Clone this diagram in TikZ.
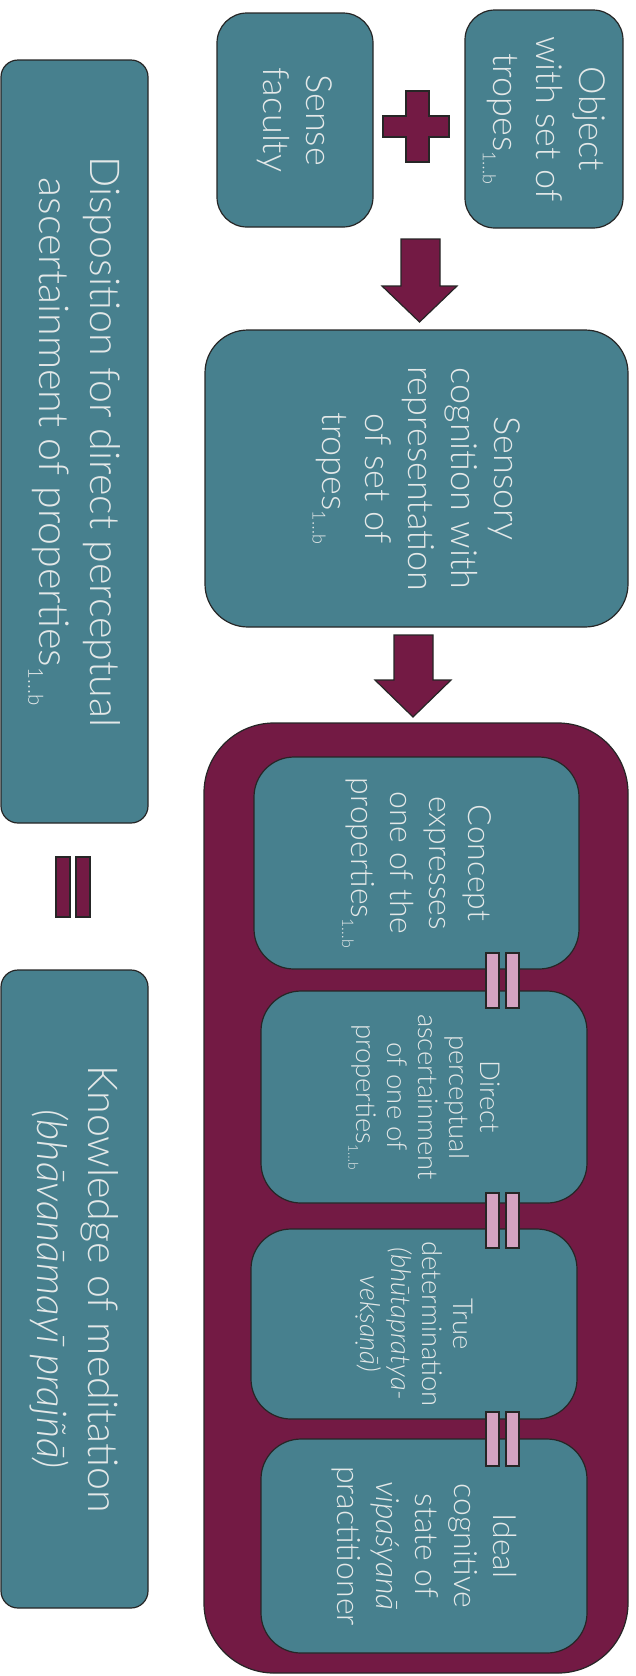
\documentclass[tikz,border=0pt]{standalone}
\usepackage{fontspec}
\usepackage{graphicx}
\setmainfont{Lato}[UprightFont={* Light},ItalicFont={* Light Italic}]
\usetikzlibrary{positioning}

\definecolor{boxteal}{HTML}{47808E}
\definecolor{plum}{HTML}{731A44}
\definecolor{linkpink}{HTML}{D4A3C2}
\definecolor{boxtext}{HTML}{E3E8E8}

% index range of the tropes / properties
\newcommand{\rng}{\raisebox{-0.28em}{\scalebox{0.5}{1…b}}}

\begin{document}
\begin{tikzpicture}[
    x=0.5pt, y=-0.5pt,
    box/.style={rectangle,draw=black!85,line width=0.6pt,fill=boxteal,text=boxtext,
      align=center,inner sep=0pt,rotate=-90,rounded corners=20pt},
    smallbox/.style={box,rounded corners=15pt,font=\fontsize{18}{21.5}\selectfont},
    midbox/.style={box,font=\fontsize{16}{19.5}\selectfont},
    tinybox/.style={box,font=\fontsize{13.7}{15.5}\selectfont},
    sidebox/.style={box,rounded corners=8.5pt,font=\fontsize{20.6}{25.5}\selectfont},
    stage/.style={rectangle,draw=black!85,line width=0.6pt,fill=plum,rounded corners=35pt},
    blockarrow/.style={draw=black!85,line width=0.6pt,fill=plum},
    link/.style={draw=black!85,line width=0.6pt,fill=linkpink}
  ]
    \useasboundingbox (0,0) rectangle (636,1676);

    % Inputs
    \node[smallbox, minimum width=107pt, minimum height=78pt] (sense) at (295,120)
      {Sense\\faculty};
    \node[smallbox, minimum width=109pt, minimum height=79pt] (object) at (544,119)
      {Object\\with set of\\tropes\rng};

    % Plus sign
    \draw[blockarrow] (406,91) -- (429,91) -- (429,116) -- (449,116) -- (449,137)
      -- (429,137) -- (429,162) -- (406,162) -- (406,137) -- (383,137)
      -- (383,116) -- (406,116) -- cycle;

    % Arrow down to sensory cognition
    \draw[blockarrow] (401,239) -- (440,239) -- (440,286) -- (457,286) -- (419.5,322)
      -- (382,286) -- (401,286) -- cycle;

    \node[smallbox, rounded corners=21.5pt, minimum width=148.5pt, minimum height=211.5pt]
      (sensory) at (416.5,478.5)
      {Sensory\\cognition with\\representation\\of set of\\tropes\rng};

    % Arrow down to the stages
    \draw[blockarrow] (394,635) -- (433,635) -- (433,680) -- (451,680) -- (413,717)
      -- (375,680) -- (394,680) -- cycle;

    % Stages
    \node[stage, minimum width=212pt, minimum height=475pt] (stage) at (416,1198) {};

    \node[midbox, minimum width=106pt, minimum height=162.5pt] (concept) at (416.5,863)
      {Concept\\expresses\\one of the\\properties\rng};
    \node[tinybox, minimum width=106pt, minimum height=163pt] (direct) at (424,1097)
      {Direct\\perceptual\\ascertainment\\of one of\\properties\rng};
    \node[tinybox, minimum width=95pt, minimum height=163pt] (true) at (414,1324)
      {True\\determination\\\textit{(bhūtapratya-}\\\textit{vekṣaṇā)}};
    \node[midbox, minimum width=107pt, minimum height=163pt] (ideal) at (424,1546)
      {Ideal\\cognitive\\state of\\\textit{vipaśyanā}\\practitioner};

    % Links between stages
    \draw[link] (486,953) rectangle (499,1008);
    \draw[link] (506,953) rectangle (519,1008);
    \draw[link] (486,1193) rectangle (499,1248);
    \draw[link] (506,1193) rectangle (519,1248);
    \draw[link] (486,1412) rectangle (499,1466);
    \draw[link] (506,1412) rectangle (519,1466);

    % Left column
    \node[sidebox, minimum width=381.5pt, minimum height=73.5pt] (disposition) at (74.5,441.5)
      {Disposition for direct perceptual\\ascertainment of properties\rng};
    \draw[blockarrow] (56,857) rectangle (70,917);
    \draw[blockarrow] (76,857) rectangle (90,917);
    \node[sidebox, minimum width=319pt, minimum height=73.5pt] (knowledge) at (74.5,1289)
      {Knowledge of meditation\\\textit{(bhāvanāmayī prajñā)}};

  \end{tikzpicture}
\end{document}
